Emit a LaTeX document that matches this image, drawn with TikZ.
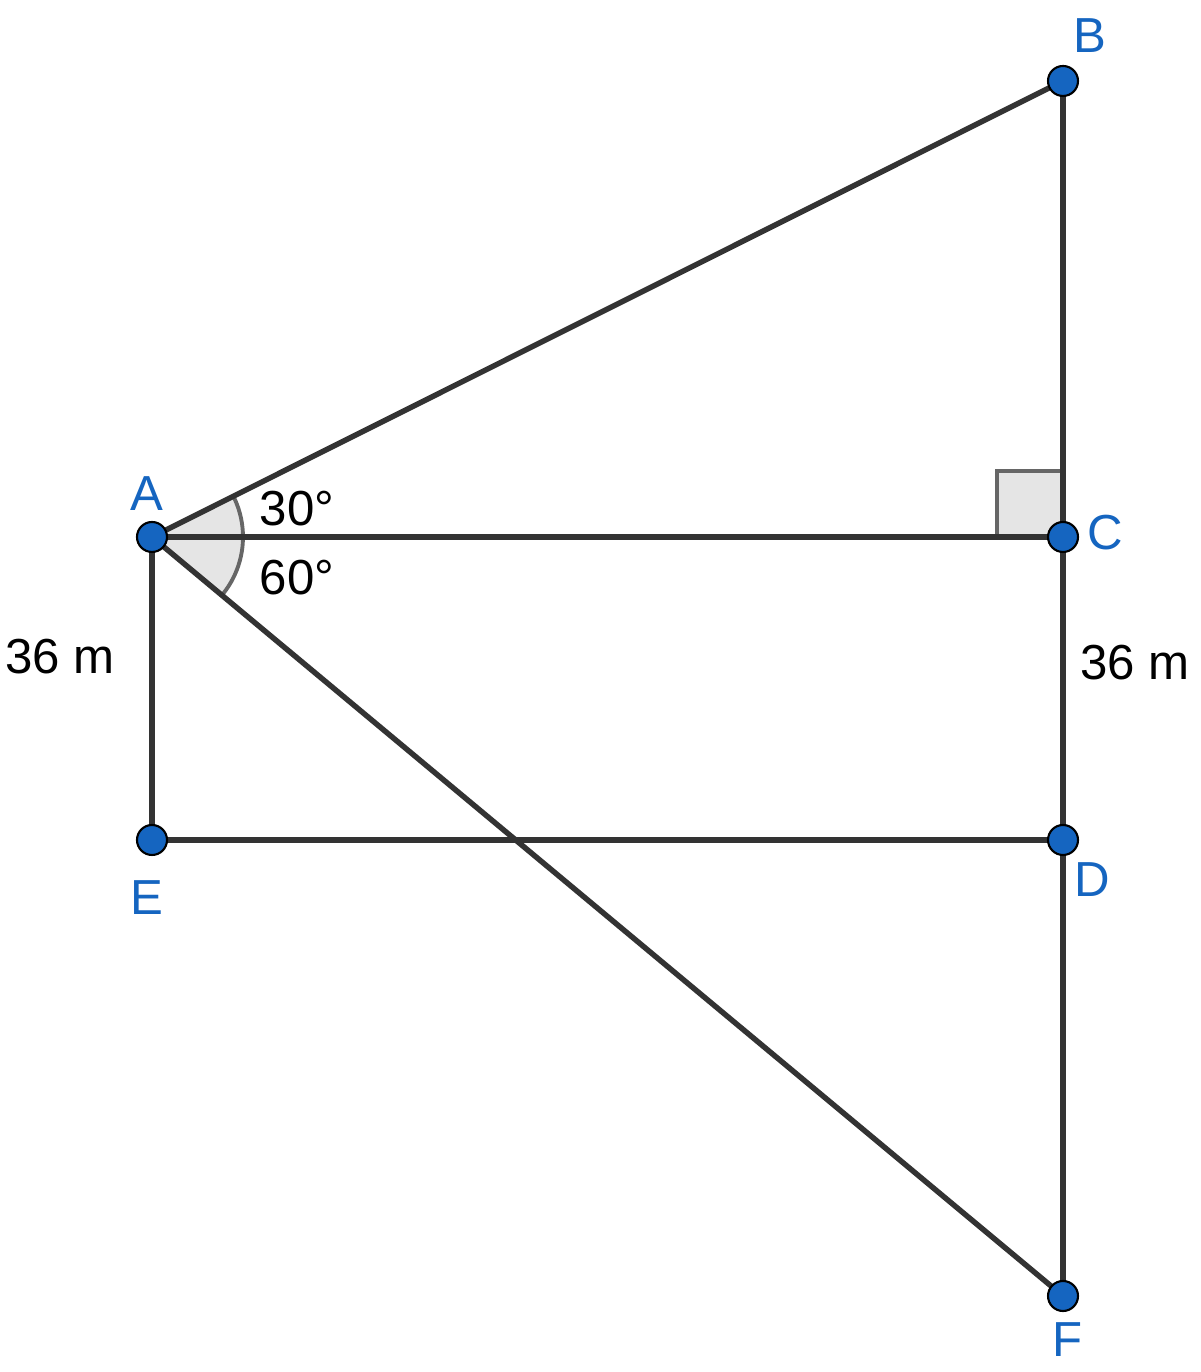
\documentclass[tikz,border=0pt]{standalone}
\usepackage{fontspec}
\setmainfont{Liberation Sans}
\usepackage{xcolor}
\usetikzlibrary{angles}
\definecolor{ptblue}{HTML}{1565C0}
\definecolor{segdark}{HTML}{333333}
\definecolor{markgray}{HTML}{E5E5E5}

\begin{document}
\begin{tikzpicture}[x=0.02cm,y=0.02cm]
        \tikzset{
        pt node/.style={circle,draw=black,fill=ptblue,line width=1.2pt,minimum size=0.6cm,inner sep=0},
        pt label/.style={text=ptblue,font=\fontsize{28}{32}\selectfont,inner sep=0},
        len label/.style={text=black,font=\fontsize{28}{32}\selectfont,inner sep=0},
        seg/.style={draw=segdark,line width=3.1pt},
        mark box/.style={draw=black!60,fill=markgray,line width=2.2pt}
        }
        \useasboundingbox (0,0) rectangle (1200,1372);
        \coordinate (A) at (152,835);
        \coordinate (B) at (1063,1291);
        \coordinate (C) at (1063,835);
        \coordinate (D) at (1063,532);
        \coordinate (E) at (152,532);
        \coordinate (F) at (1063,76);

        \path[mark box] (C) rectangle ++(-66,66);
        \pic[mark box,angle radius=1.82cm] {angle=F--A--B};

        \path[seg]
        (A) edge (B)
        (A) edge (C)
        (A) edge (F)
        (A) edge (E)
        (E) edge (D)
        (B) edge (C)
        (C) edge (D)
        (D) edge (F)
        ;

        \node[pt node] (a) at (A) {};
        \node[pt node] (b) at (B) {};
        \node[pt node] (c) at (C) {};
        \node[pt node] (d) at (D) {};
        \node[pt node] (e) at (E) {};
        \node[pt node] (f) at (F) {};

        \node[pt label] (la) at (147,878) {A};
        \node[pt label] (lb) at (1090,1336) {B};
        \node[pt label] (lc) at (1105,839) {C};
        \node[pt label] (ld) at (1092,492) {D};
        \node[pt label] (le) at (147,474) {E};
        \node[pt label] (lf) at (1068,32) {F};
        \node[len label] (up) at (297,863) {30°};
        \node[len label] (down) at (297,794) {60°};
        \node[len label] (ae) at (60,715) {36 m};
        \node[len label] (cd) at (1135,709) {36 m};
    \end{tikzpicture}
\end{document}
